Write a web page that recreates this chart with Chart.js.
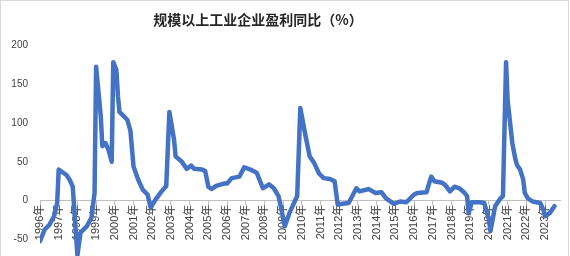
<!DOCTYPE html>
<html>
<head>
<meta charset="utf-8">
<script src="https://cdn.jsdelivr.net/npm/chart.js@4/dist/chart.umd.min.js"></script>
<style>
html,body{margin:0;padding:0;background:#fff;}
#wrap{width:570px;height:256px;position:relative;}
</style>
</head>
<body>
<div id="wrap"><canvas id="c" width="570" height="256"></canvas></div>
<script>
const chartTitle = '规模以上工业企业盈利同比（%）';
const months = [
 '1996-01','1996-04','1996-07','1996-10','1996-12','1997-01','1997-06','1997-08','1997-10','1998-01',
 '1998-03','1998-07','1998-10','1998-12','1999-01','1999-04','1999-05','1999-07','1999-09','1999-11',
 '1999-12','2000-02','2000-03','2000-04','2000-09','2000-11','2001-01','2001-04','2001-07','2001-10',
 '2001-12','2002-03','2002-07','2002-10','2002-12','2003-03','2003-04','2003-08','2003-11','2004-02',
 '2004-04','2004-09','2004-11','2005-01','2005-03','2005-06','2005-11','2006-01','2006-04','2006-09',
 '2006-12','2007-04','2007-08','2007-12','2008-04','2008-07','2008-10','2008-12','2009-02','2009-05',
 '2009-10','2009-12','2010-03','2010-06','2010-09','2010-12','2011-03','2011-07','2011-10','2011-12',
 '2012-03','2012-07','2012-12','2013-02','2013-08','2013-12','2014-04','2014-07','2014-12','2015-04',
 '2015-08','2016-01','2016-03','2016-09','2016-10','2016-12','2017-02','2017-07','2017-09','2017-12',
 '2018-03','2018-06','2018-09','2018-11','2018-12','2019-02','2019-07','2019-10','2020-01','2020-02',
 '2020-05','2020-08','2020-10','2020-12','2021-01','2021-04','2021-06','2021-07','2021-09','2021-11',
 '2021-12','2022-02','2022-05','2022-10','2022-12','2023-01','2023-04','2023-07'
];
const profitYoY = [
 -52,-37,-31,-20,-3,40,33,27,18,-70,
 -41,-33,-22,10,172,108,70,74,65,50,
 178,168,134,114,104,90,44,27,14,8,
 -9,1,12,19,114,78,57,50,41,45,
 41,40,38,18,15,19,22,22,29,31,
 43,40,36,16,21,16,6,-12,-33,-16,
 6,119,87,57,48,35,29,28,25,-5,
 -4,-3,16,12,15,10,11,3,-4,-1,
 -2,8,10,11,18,31,25,23,20,12,
 18,16,11,6,-16,-2,-2,-3,-24,-39,
 -7,2,6,178,129,74,53,46,40,27,
 10,3,-1,-3,-12,-20,-16,-7
];
const tickYears = [1996,1997,1998,1999,2000,2001,2002,2003,2004,2005,2006,2007,2008,2009,2010,2011,2012,2013,2014,2015,2016,2017,2018,2019,2020,2021,2022,2023];
const yTickValues = [-50,0,50,100,150,200];

const points = months.map((m, i) => {
  const [yy, mm] = m.split('-').map(Number);
  return {x: yy + (mm - 1) / 12, y: profitYoY[i]};
});

const deco = {
  id: 'deco',
  beforeDraw(chart) {
    const c = chart.ctx;
    c.save();
    c.fillStyle = '#ffffff';
    c.fillRect(0, 0, chart.width, chart.height);
    c.strokeStyle = '#d9d9d9';
    c.lineWidth = 1;
    c.strokeRect(0.5, 0.5, 568, 270);
    c.restore();
  },
  afterDraw(chart) {
    const c = chart.ctx;
    c.save();
    c.font = 'bold 14px "Noto Sans CJK SC", sans-serif';
    c.fillStyle = '#262626';
    c.textAlign = 'center';
    c.textBaseline = 'middle';
    c.fillText(chartTitle, 258, 20);
    c.restore();
  }
};

new Chart(document.getElementById('c'), {
  type: 'line',
  data: {
    datasets: [{
      data: points,
      borderColor: '#4472C4',
      borderWidth: 4.5,
      pointRadius: 0,
      tension: 0,
      borderJoinStyle: 'round',
      borderCapStyle: 'round',
      fill: false
    }]
  },
  options: {
    responsive: false,
    animation: false,
    layout: {padding: {top: 45, right: 10, bottom: 0, left: 0}},
    plugins: {legend: {display: false}, tooltip: {enabled: false}, title: {display: false}},
    scales: {
      x: {
        type: 'linear',
        position: {y: 0},
        min: 1996,
        max: 2023.8,
        afterBuildTicks(scale) { scale.ticks = tickYears.map(v => ({value: v})); },
        afterFit(scale) { scale.paddingLeft = 0; scale.paddingRight = 0; scale.paddingTop = 0; scale.paddingBottom = 0; },
        grid: {display: true, drawOnChartArea: false, drawTicks: true, tickLength: 4, color: '#bfbfbf'},
        border: {display: true, color: '#bfbfbf', width: 1},
        ticks: {
          autoSkip: false,
          minRotation: 90,
          maxRotation: 90,
          padding: 0,
          color: '#404040',
          font: {size: 11, family: '"Liberation Sans", "Noto Sans CJK SC", sans-serif'},
          callback: v => v + '年'
        }
      },
      y: {
        min: -71,
        max: 200,
        afterBuildTicks(scale) { scale.ticks = yTickValues.map(v => ({value: v})); },
        afterFit(scale) { scale.width = 40; scale.paddingTop = 0; scale.paddingBottom = 0; },
        grid: {display: false, drawTicks: false},
        border: {display: false},
        ticks: {
          padding: 12,
          color: '#404040',
          font: {size: 10, family: '"Liberation Sans", sans-serif'}
        }
      }
    }
  },
  plugins: [deco]
});
</script>
</body>
</html>
